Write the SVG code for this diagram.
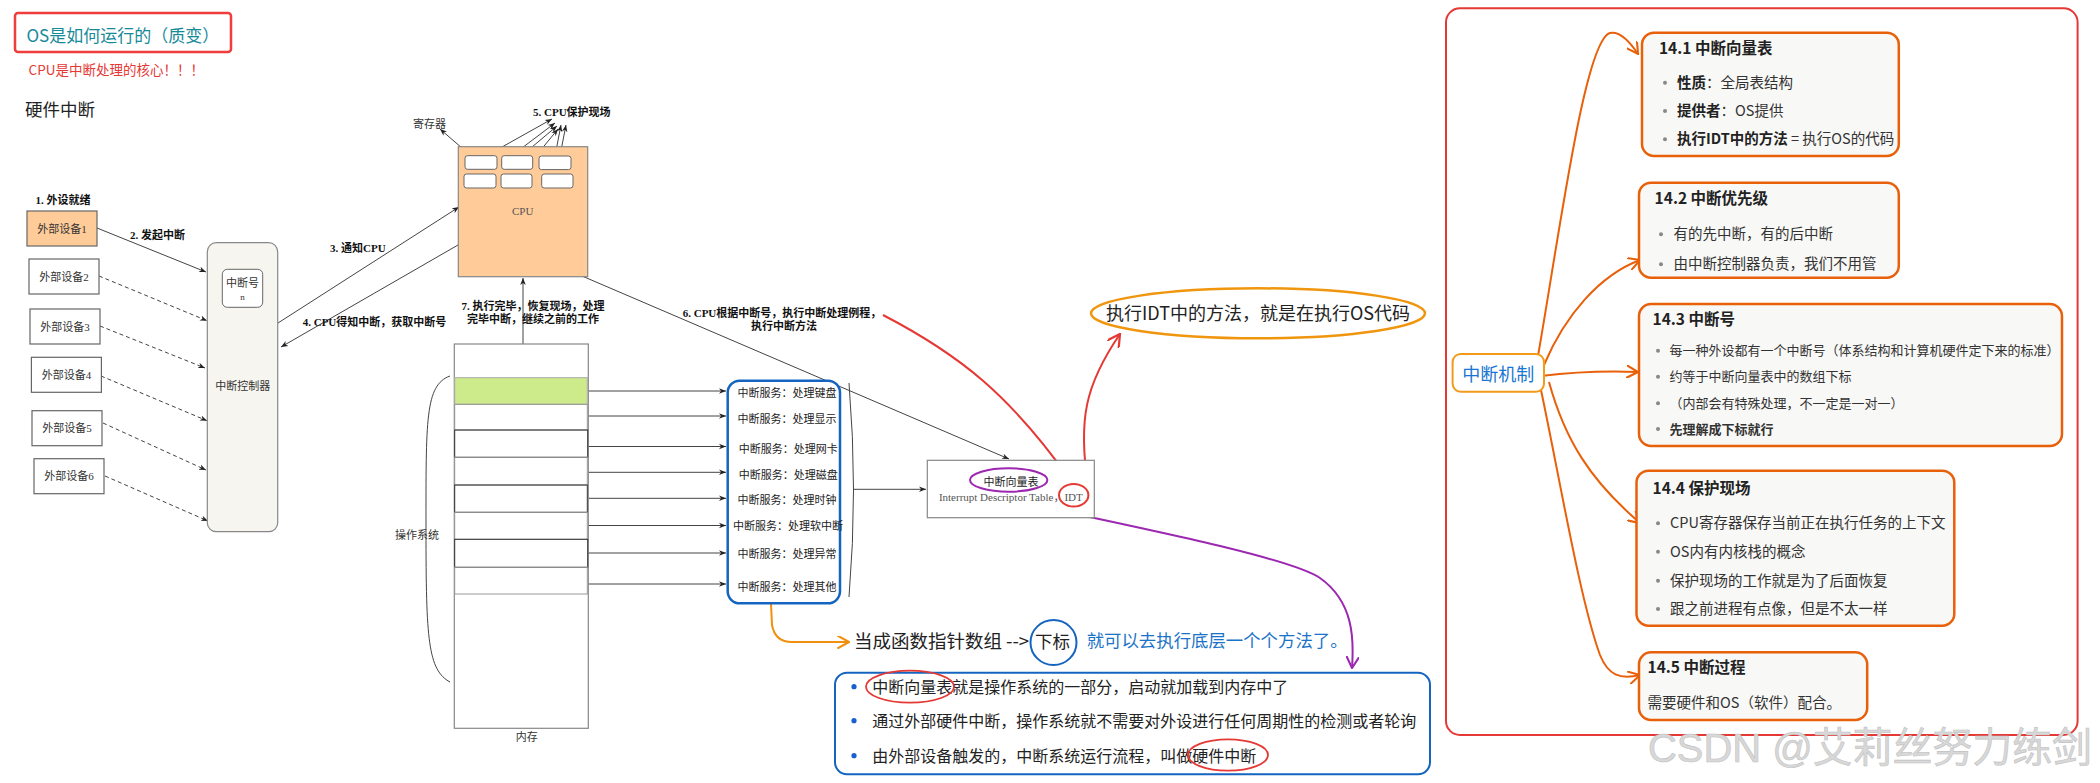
<svg xmlns="http://www.w3.org/2000/svg" width="2100" height="783" viewBox="0 0 2100 783">
<style>
.sans{font-family:"Noto Sans CJK SC","Noto Sans",sans-serif}
.lbl{font-family:"Liberation Serif","Noto Sans CJK SC",serif;font-size:11px;font-weight:bold;fill:#111}
.dev{fill:#fff;stroke:#666;stroke-width:1.2}
.devt{font-family:"Liberation Serif","Noto Sans CJK SC",serif;font-size:11px;fill:#333;text-anchor:middle}
.ln{stroke:#444;stroke-width:1;fill:none}
.dash{stroke-dasharray:4 3}
.reg{fill:#fff;stroke:#666;stroke-width:1}
.svc{font-family:"Noto Sans CJK SC",sans-serif;font-size:11px;fill:#222;text-anchor:middle}
.card{fill:#f8f8f6;stroke:#e8600a;stroke-width:2.5}
.ct{font-family:"Noto Sans CJK SC",sans-serif;font-weight:bold;font-size:15.5px;fill:#222}
.bt{font-family:"Noto Sans CJK SC",sans-serif;font-size:14.5px;fill:#333}
.bt3{font-family:"Noto Sans CJK SC",sans-serif;font-size:13px;fill:#333}
.dot{fill:#888}
.oc{stroke:#e8600a;stroke-width:2;fill:none;marker-end:url(#vOr)}
.row{fill:none;stroke:#999;stroke-width:1}
.rowd{fill:none;stroke:#333;stroke-width:1}
</style>
<defs>
<marker id="arr" viewBox="0 0 10 10" refX="10" refY="5" markerWidth="7" markerHeight="7" markerUnits="userSpaceOnUse" orient="auto">
<path d="M0,1 L10,5 L0,9 L3,5 z" fill="#222"/>
</marker>
<marker id="vOr" viewBox="0 0 10 10" refX="9" refY="5" markerWidth="13" markerHeight="13" markerUnits="userSpaceOnUse" orient="auto">
<path d="M0,0 L9,5 L0,10" fill="none" stroke="#e8600a" stroke-width="1.6"/>
</marker>
<marker id="vAm" viewBox="0 0 10 10" refX="9" refY="5" markerWidth="13" markerHeight="13" markerUnits="userSpaceOnUse" orient="auto">
<path d="M0,0 L9,5 L0,10" fill="none" stroke="#f0900e" stroke-width="1.6"/>
</marker>
<marker id="vRed" viewBox="0 0 10 10" refX="9" refY="5" markerWidth="14" markerHeight="14" markerUnits="userSpaceOnUse" orient="auto">
<path d="M0,0 L9,5 L0,10" fill="none" stroke="#e53935" stroke-width="1.6"/>
</marker>
<marker id="vPur" viewBox="0 0 10 10" refX="9" refY="5" markerWidth="13" markerHeight="13" markerUnits="userSpaceOnUse" orient="auto">
<path d="M0,0 L9,5 L0,10" fill="none" stroke="#9c27b0" stroke-width="1.6"/>
</marker>
</defs>
<rect width="2100" height="783" fill="#fff"/>

<g id="title">
<rect x="15" y="13" width="216" height="39" rx="3" fill="#fff" stroke="#f03c3c" stroke-width="2.5"/>
<text x="26.5" y="42" class="sans" font-size="17" fill="#178a9a">OS是如何运行的（质变）</text>
</g>
<g id="note-cpu">
<text x="28.6" y="75" class="sans" font-size="13.5" fill="#e53935">CPU是中断处理的核心！！！</text>
</g>
<g id="hw-heading">
<text x="25" y="116" class="sans" font-size="17.5" fill="#222">硬件中断</text>
</g>

<g id="connectors">
<path class="ln" d="M97,228 L206,272" marker-end="url(#arr)"/>
<path class="ln dash" d="M99,276 L207,320.7" marker-end="url(#arr)"/>
<path class="ln dash" d="M100,326 L205,368" marker-end="url(#arr)"/>
<path class="ln dash" d="M101,376 L207,420.7" marker-end="url(#arr)"/>
<path class="ln dash" d="M103,423 L206,470" marker-end="url(#arr)"/>
<path class="ln dash" d="M105,476 L208,521" marker-end="url(#arr)"/>
<path class="ln" d="M278,323 L459,207" marker-end="url(#arr)"/>
<path class="ln" d="M458,245 L281,347" marker-end="url(#arr)"/>
<path class="ln" d="M523,389 L523,278" marker-end="url(#arr)"/>
<path class="ln" d="M526,252 L1009,459" marker-end="url(#arr)"/>
<path class="ln" d="M477,161 L440,129" marker-end="url(#arr)"/>
<path class="ln" d="M477,161 L552,119" marker-end="url(#arr)"/>
<path class="ln" d="M477,182 L555,123" marker-end="url(#arr)"/>
<path class="ln" d="M513,163 L557,126" marker-end="url(#arr)"/>
<path class="ln" d="M513,184 L558,129" marker-end="url(#arr)"/>
<path class="ln" d="M554,161 L561,125" marker-end="url(#arr)"/>
<path class="ln" d="M554,186 L566,125" marker-end="url(#arr)"/>
<path class="ln" d="M575,391 L726,391" marker-end="url(#arr)"/>
<path class="ln" d="M575,416 L726,416" marker-end="url(#arr)"/>
<path class="ln" d="M575,446.5 L726,446.5" marker-end="url(#arr)"/>
<path class="ln" d="M575,472.3 L726,472.3" marker-end="url(#arr)"/>
<path class="ln" d="M575,498.3 L726,498.3" marker-end="url(#arr)"/>
<path class="ln" d="M575,525.5 L726,525.5" marker-end="url(#arr)"/>
<path class="ln" d="M575,553 L726,553" marker-end="url(#arr)"/>
<path class="ln" d="M575,584 L726,584" marker-end="url(#arr)"/>
<path class="ln" d="M849,383 Q858,490 849,597"/>
<path class="ln" d="M854,489.3 L926,489.3" marker-end="url(#arr)"/>
<path d="M450,376 C425,385 426,420 426,530 C426,640 428,670 450,682" class="ln"/>
<path d="M883,315 C960,355 1010,395 1071,481" fill="none" stroke="#e53935" stroke-width="2" marker-end="url(#vRed)"/>
<path d="M1088,486 C1078,420 1085,385 1120,334" fill="none" stroke="#e53935" stroke-width="2" marker-end="url(#vRed)"/>
<path d="M1019,502 C1150,530 1290,558 1320,578 C1354,602 1354,640 1352,668" fill="none" stroke="#9c27b0" stroke-width="2" marker-end="url(#vPur)"/>
<path d="M771,604 L772,625 Q775,642 792,642 L849,642" fill="none" stroke="#f0900e" stroke-width="2" marker-end="url(#vAm)"/>
<path class="oc" d="M1538,356 C1560,230 1585,40 1610,33 C1620,31 1630,42 1638,54"/>
<path class="oc" d="M1544,365 C1565,315 1600,275 1640,260"/>
<path class="oc" d="M1541,376 Q1590,370 1638,372"/>
<path class="oc" d="M1549,382 C1565,440 1590,480 1640,523"/>
<path class="oc" d="M1541,390 C1560,480 1580,600 1600,655 C1608,675 1620,680 1640,675"/>
</g>

<g id="labels">
<text x="35.5" y="204" class="lbl">1. 外设就绪</text>
<text x="130" y="239" class="lbl">2. 发起中断</text>
<text x="330" y="252" class="lbl">3. 通知CPU</text>
<text x="302.7" y="325.5" class="lbl">4. CPU得知中断，获取中断号</text>
<text x="533" y="115.5" class="lbl">5. CPU保护现场</text>
<text x="782" y="316.5" class="lbl" text-anchor="middle">6. CPU根据中断号，执行中断处理例程，</text>
<text x="784" y="330" class="lbl" text-anchor="middle">执行中断方法</text>
<text x="533" y="310" class="lbl" text-anchor="middle">7. 执行完毕，恢复现场，处理</text>
<text x="533" y="323" class="lbl" text-anchor="middle">完毕中断，继续之前的工作</text>
<text x="413" y="128" class="sans" font-size="11" fill="#333">寄存器</text>
</g>

<g id="dev1"><rect class="dev" x="27" y="211" width="70" height="35" style="fill:#ffcc99"/><text class="devt" x="62" y="232.5">外部设备1</text></g>
<g id="dev2"><rect class="dev" x="29" y="259" width="70" height="35"/><text class="devt" x="64" y="280.5">外部设备2</text></g>
<g id="dev3"><rect class="dev" x="30" y="309" width="70" height="35"/><text class="devt" x="65" y="330.5">外部设备3</text></g>
<g id="dev4"><rect class="dev" x="31.4" y="357.3" width="70" height="35"/><text class="devt" x="66.4" y="378.8">外部设备4</text></g>
<g id="dev5"><rect class="dev" x="32" y="410.7" width="70" height="35"/><text class="devt" x="67" y="432.2">外部设备5</text></g>
<g id="dev6"><rect class="dev" x="34" y="458.7" width="70" height="35"/><text class="devt" x="69" y="480.2">外部设备6</text></g>

<g id="controller">
<rect x="207.3" y="242.7" width="70.4" height="289" rx="9" fill="#f7f5ef" stroke="#888" stroke-width="1.2"/>
<rect x="222.3" y="269.3" width="40.4" height="38" rx="5" fill="#fff" stroke="#666" stroke-width="1"/>
<text x="242.5" y="287" class="sans" font-size="11" fill="#333" text-anchor="middle">中断号</text>
<text x="242.5" y="300" font-family="Liberation Serif,serif" font-size="9" fill="#333" text-anchor="middle">n</text>
<text x="242.7" y="389.5" class="sans" font-size="11" fill="#333" text-anchor="middle">中断控制器</text>
</g>

<g id="cpu">
<rect x="458.3" y="146.7" width="129.4" height="130" fill="#ffcc99" stroke="#888" stroke-width="1.2"/>
<rect class="reg" x="465" y="155.7" width="32" height="13.6" rx="2.5"/>
<rect class="reg" x="501.7" y="155.7" width="31" height="13.6" rx="2.5"/>
<rect class="reg" x="539" y="156" width="32" height="13.6" rx="2.5"/>
<rect class="reg" x="464" y="174" width="32" height="14" rx="2.5"/>
<rect class="reg" x="501" y="174" width="31" height="14" rx="2.5"/>
<rect class="reg" x="541.7" y="174" width="31.3" height="14" rx="2.5"/>
<text x="522.7" y="215" font-family="Liberation Serif,serif" font-size="11" fill="#555" text-anchor="middle">CPU</text>
</g>

<g id="memory">
<rect x="454.3" y="344" width="134" height="384.3" fill="#fff" stroke="#888" stroke-width="1.2"/>
<rect x="454.7" y="377.7" width="132.6" height="26.6" fill="#cdeb8b" stroke="#aaa" stroke-width="1"/>
<rect class="row" x="454.7" y="404.3" width="132.6" height="25.7"/>
<rect class="rowd" x="454.7" y="430" width="133" height="27.3"/>
<rect class="row" x="454.7" y="457.3" width="132.6" height="27.7"/>
<rect class="rowd" x="454.7" y="485" width="132.6" height="27.3"/>
<rect class="row" x="454.7" y="512.3" width="132.6" height="27"/>
<rect class="rowd" x="454.7" y="539.3" width="133" height="28"/>
<rect class="row" x="454.7" y="567.3" width="132.6" height="26.7"/>
<text x="417" y="538.5" class="sans" font-size="11" fill="#333" text-anchor="middle">操作系统</text>
<text x="526.7" y="741" class="sans" font-size="11" fill="#333" text-anchor="middle">内存</text>
</g>

<g id="services">
<rect x="727.7" y="380.7" width="112.3" height="222.6" rx="12" fill="#fff" stroke="#1565c0" stroke-width="2.5"/>
<text class="svc" x="787" y="397.3">中断服务：处理键盘</text>
<text class="svc" x="787" y="423.3">中断服务：处理显示</text>
<text class="svc" x="788.3" y="453.3">中断服务：处理网卡</text>
<text class="svc" x="788.3" y="479">中断服务：处理磁盘</text>
<text class="svc" x="787" y="504">中断服务：处理时钟</text>
<text class="svc" x="788" y="529.7">中断服务：处理软中断</text>
<text class="svc" x="787" y="558.3">中断服务：处理异常</text>
<text class="svc" x="787" y="590.7">中断服务：处理其他</text>
</g>

<g id="idt">
<rect x="927.3" y="460.3" width="167" height="57.4" fill="#fff" stroke="#888" stroke-width="1.2"/>
<text x="1011" y="486" class="sans" font-size="11" fill="#222" text-anchor="middle">中断向量表</text>
<text x="1010.8" y="500.5" font-family="Liberation Serif,'Noto Sans CJK SC',serif" font-size="11" fill="#555" text-anchor="middle">Interrupt Descriptor Table，IDT</text>
<ellipse cx="1008.7" cy="480" rx="38.7" ry="11.7" fill="none" stroke="#9c27b0" stroke-width="2"/>
<ellipse cx="1073.7" cy="495.3" rx="14.7" ry="11.3" fill="none" stroke="#e53935" stroke-width="2"/>
</g>

<g id="idt-note">
<ellipse cx="1258" cy="313.3" rx="167" ry="25" fill="#fff" stroke="#f0960e" stroke-width="2.5"/>
<text x="1258" y="320" class="sans" font-size="18" fill="#222" text-anchor="middle">执行IDT中的方法，就是在执行OS代码</text>
</g>

<g id="fn-array">
<text x="853.9" y="648" class="sans" font-size="18.5" fill="#222">当成函数指针数组 --&gt;</text>
<text x="1035" y="648" class="sans" font-size="17.5" fill="#222">下标</text>
<ellipse cx="1053.5" cy="642.5" rx="23" ry="22.5" fill="none" stroke="#1565c0" stroke-width="2"/>
<text x="1086.7" y="646.5" class="sans" font-size="17.4" fill="#1a73c8">就可以去执行底层一个个方法了。</text>
</g>

<g id="summary">
<rect x="835" y="672.7" width="595" height="101.6" rx="12" fill="#fff" stroke="#1565c0" stroke-width="2"/>
<circle cx="854" cy="686.7" r="2.6" fill="#1a5fd0"/>
<circle cx="854" cy="720.7" r="2.6" fill="#1a5fd0"/>
<circle cx="854" cy="755.7" r="2.6" fill="#1a5fd0"/>
<text x="872.2" y="692.5" class="sans" font-size="16" fill="#222">中断向量表就是操作系统的一部分，启动就加载到内存中了</text>
<text x="872.2" y="726.5" class="sans" font-size="16" fill="#222">通过外部硬件中断，操作系统就不需要对外设进行任何周期性的检测或者轮询</text>
<text x="872.2" y="761.5" class="sans" font-size="16" fill="#222">由外部设备触发的，中断系统运行流程，叫做硬件中断</text>
<ellipse cx="910" cy="686.7" rx="44" ry="16" fill="none" stroke="#e53935" stroke-width="1.8"/>
<ellipse cx="1228" cy="755" rx="40" ry="15.7" fill="none" stroke="#e53935" stroke-width="1.8"/>
</g>

<g id="mindmap-frame">
<rect x="1446" y="8.3" width="631.6" height="726.7" rx="14" fill="none" stroke="#e53935" stroke-width="2"/>
</g>

<g id="root">
<rect x="1452.6" y="354" width="91.4" height="37.7" rx="8" fill="#fff" stroke="#f29b1b" stroke-width="2"/>
<text x="1498.3" y="380.5" class="sans" font-size="18" fill="#1976d2" text-anchor="middle">中断机制</text>
</g>

<g id="card141">
<rect class="card" x="1642" y="32.7" width="256.8" height="123.3" rx="12"/>
<text class="ct" x="1658.9" y="54">14.1 中断向量表</text>
<circle class="dot" cx="1665" cy="82.7" r="2"/><circle class="dot" cx="1665" cy="111" r="2"/><circle class="dot" cx="1665" cy="139.3" r="2"/>
<text class="bt" x="1677" y="87.7"><tspan font-weight="bold" fill="#222">性质</tspan>：全局表结构</text>
<text class="bt" x="1677" y="116"><tspan font-weight="bold" fill="#222">提供者</tspan>：OS提供</text>
<text class="bt" x="1677" y="144.3"><tspan font-weight="bold" fill="#222">执行IDT中的方法</tspan> = 执行OS的代码</text>
</g>

<g id="card142">
<rect class="card" x="1639" y="182.7" width="259.8" height="95" rx="12"/>
<text class="ct" x="1654.6" y="204">14.2 中断优先级</text>
<circle class="dot" cx="1661" cy="234.3" r="2"/><circle class="dot" cx="1661" cy="264.3" r="2"/>
<text class="bt" x="1673.6" y="239.3">有的先中断，有的后中断</text>
<text class="bt" x="1673.6" y="269.3">由中断控制器负责，我们不用管</text>
</g>

<g id="card143">
<rect class="card" x="1639" y="304" width="423" height="142" rx="12"/>
<text class="ct" x="1652.5" y="324.5" font-size="15">14.3 中断号</text>
<circle class="dot" cx="1658" cy="350.7" r="2"/><circle class="dot" cx="1658" cy="376.7" r="2"/><circle class="dot" cx="1658" cy="403.3" r="2"/><circle class="dot" cx="1658" cy="429" r="2"/>
<text class="bt3" x="1669.4" y="355.2">每一种外设都有一个中断号（体系结构和计算机硬件定下来的标准）</text>
<text class="bt3" x="1669.4" y="381.2">约等于中断向量表中的数组下标</text>
<text class="bt3" x="1669.4" y="407.8">（内部会有特殊处理，不一定是一对一）</text>
<text class="bt3" x="1669.4" y="433.5" font-weight="bold" fill="#222">先理解成下标就行</text>
</g>

<g id="card144">
<rect class="card" x="1636.5" y="470.7" width="317.8" height="155" rx="12"/>
<text class="ct" x="1652.5" y="493.8">14.4 保护现场</text>
<circle class="dot" cx="1658" cy="523.3" r="2"/><circle class="dot" cx="1658" cy="551.7" r="2"/><circle class="dot" cx="1658" cy="580.7" r="2"/><circle class="dot" cx="1658" cy="609" r="2"/>
<text class="bt" x="1670" y="528.3">CPU寄存器保存当前正在执行任务的上下文</text>
<text class="bt" x="1670" y="556.7">OS内有内核栈的概念</text>
<text class="bt" x="1670" y="585.7">保护现场的工作就是为了后面恢复</text>
<text class="bt" x="1670" y="614">跟之前进程有点像，但是不太一样</text>
</g>

<g id="card145">
<rect class="card" x="1639" y="652.3" width="228.2" height="67.7" rx="12"/>
<text class="ct" x="1647.5" y="672.8">14.5 中断过程</text>
<text class="bt" x="1647.5" y="707.7">需要硬件和OS（软件）配合。</text>
</g>

<g id="watermark">
<text x="1648" y="762" font-family="'Liberation Sans','Noto Sans CJK SC',sans-serif" font-size="41" textLength="444" lengthAdjust="spacingAndGlyphs" fill="#d8d8d8" stroke="#c2c2c2" stroke-width="0.6">CSDN @艾莉丝努力练剑</text>
</g>
</svg>
